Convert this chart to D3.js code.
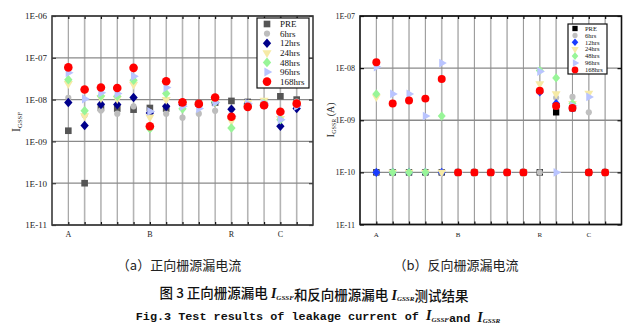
<!DOCTYPE html>
<html>
<head>
<meta charset="utf-8">
<script src="https://cdn.jsdelivr.net/npm/d3@7"></script>
<style>
  html, body { margin: 0; padding: 0; background: #fff; }
  svg { display: block; }
</style>
</head>
<body>
<svg id="chart" width="642" height="331"></svg>
<script>
// Sample positions 1..15 along the x axis; labelled groups
const positions = d3.range(1, 16);
const groupLabels = ["A", "B", "R", "C"];
const groupPositions = [1, 6, 11, 14];

const seriesNames = ["PRE", "6hrs", "12hrs", "24hrs", "48hrs", "96hrs", "168hrs"];

// (a) forward gate-source leakage I_GSSF, amperes
const fwdPRE   = [1.8e-9, 1.0e-10, 6.3e-9, 6.1e-9, 5.75e-9, 6.3e-9, 6.1e-9, 8.5e-9, 8.0e-9, 8.5e-9, 9.3e-9, 8.8e-9, 7.5e-9, 1.2e-8, 1.0e-8];
const fwd6h    = [1.1e-8, 4.2e-9, 5.5e-9, 4.6e-9, 6.9e-9, 5.0e-9, 4.6e-9, 3.7e-9, 4.6e-9, 5.4e-9, 6.0e-9, 8.5e-9, 8.0e-9, 5.1e-9, 9.0e-9];
const fwd12h   = [8.5e-9, 2.4e-9, 7.7e-9, 7.6e-9, 1.12e-8, 4.8e-9, 6.9e-9, 7.5e-9, 7.5e-9, 8.5e-9, 5.9e-9, 7.8e-9, 7.6e-9, 2.3e-9, 6.1e-9];
const fwd24h   = [2.4e-8, 4.1e-9, 1.1e-8, 1.05e-8, 2.3e-8, 3.8e-9, 1.0e-8, 8.0e-9, 7.5e-9, 8.5e-9, 3.1e-9, 8.5e-9, 9.6e-9, 3.5e-9, 8.0e-9];
const fwd48h   = [3.0e-8, 5.4e-9, 1.22e-8, 1.2e-8, 2.9e-8, 2.0e-9, 1.4e-8, 6.0e-9, 7.5e-9, 8.8e-9, 2.1e-9, 7.5e-9, 8.0e-9, 3.3e-9, 7.5e-9];
const fwd96h   = [4.4e-8, 1.04e-8, 1.45e-8, 1.39e-8, 3.6e-8, 5.2e-9, 1.94e-8, 6.9e-9, 6.1e-9, 8.5e-9, 4.0e-9, 8.0e-9, 8.0e-9, 3.3e-9, 7.0e-9];
const fwd168h  = [5.9e-8, 1.74e-8, 1.94e-8, 1.9e-8, 5.75e-8, 2.3e-9, 2.75e-8, 8.6e-9, 7.9e-9, 1.12e-8, 3.9e-9, 6.7e-9, 7.3e-9, 5.1e-9, 8.0e-9];

// (b) reverse gate-source leakage I_GSSR, amperes
const revPRE   = [1e-10, 1e-10, 1e-10, 1e-10, 1e-10, 1e-10, 1e-10, 1e-10, 1e-10, 1e-10, 1e-10, 1.42e-9, 1.7e-9, 1e-10, 1e-10];
const rev6h    = [1e-10, 1e-10, 1e-10, 1e-10, 1e-10, 1e-10, 1e-10, 1e-10, 1e-10, 1e-10, 1e-10, 2.7e-9, 2.8e-9, 1.42e-9, 1e-10];
const rev12h   = [1e-10, 1e-10, 1e-10, 1e-10, 1e-10, 1e-10, 1e-10, 1e-10, 1e-10, 1e-10, 3.5e-9, 2.1e-9, 1.72e-9, 1e-10, 1e-10];
const rev24h   = [2.8e-9, 1e-10, 1e-10, 1e-10, 1e-10, 1e-10, 1e-10, 1e-10, 1e-10, 1e-10, 5.0e-9, 3.2e-9, 2.1e-9, 3.3e-9, 1e-10];
const rev48h   = [3.2e-9, 1e-10, 1e-10, 1e-10, 1.2e-9, 1e-10, 1e-10, 1e-10, 1e-10, 1e-10, 9.0e-9, 6.5e-9, 2.1e-9, 1e-10, 1e-10];
const rev96h   = [1.05e-8, 3.2e-9, 3.2e-9, 1.2e-9, 1.25e-8, 1e-10, 1e-10, 1e-10, 1e-10, 1e-10, 8.6e-9, 1e-10, 1.9e-9, 2.8e-9, 1e-10];
const rev168h  = [1.29e-8, 2.1e-9, 2.4e-9, 2.6e-9, 6.2e-9, 1e-10, 1e-10, 1e-10, 1e-10, 1e-10, 3.7e-9, 1.88e-9, 1.72e-9, 1e-10, 1e-10];

const fwdTicks = [1e-6, 1e-7, 1e-8, 1e-9, 1e-10, 1e-11];
const revTicks = [1e-7, 1e-8, 1e-9, 1e-10, 1e-11];

const svg = d3.select("#chart");
const serif = "'Liberation Serif', 'DejaVu Serif', serif";

// a slightly tall rhombus marker
const symbolRhombus = {
  draw(ctx, size) {
    const r = Math.sqrt(size / 2.3);
    ctx.moveTo(0, -r * 1.15);
    ctx.lineTo(r, 0);
    ctx.lineTo(0, r * 1.15);
    ctx.lineTo(-r, 0);
    ctx.closePath();
  }
};

function symbolPath(shape, size) {
  const types = { square: d3.symbolSquare, circle: d3.symbolCircle, diamond: symbolRhombus,
                  triDown: d3.symbolTriangle, triRight: d3.symbolTriangle };
  return d3.symbol().type(types[shape]).size(size)();
}
function symbolRotate(shape) {
  return shape === "triDown" ? 180 : shape === "triRight" ? 90 : 0;
}

function drawPanel(cfg) {
  const g = svg.append("g");
  const x = d3.scaleLinear().domain([0, 16]).range([cfg.left, cfg.right]);
  const y = d3.scaleLog().domain([1e-11, cfg.top]).range([cfg.bottom, cfg.topPx]);

  // vertical grid
  g.append("g").selectAll("line").data(d3.range(1, 16)).join("line")
    .attr("x1", d => x(d)).attr("x2", d => x(d))
    .attr("y1", cfg.topPx).attr("y2", cfg.bottom)
    .attr("stroke", (d, i) => i % 3 === 0 ? "#9a9a9a" : "#b4b4b4")
    .attr("stroke-width", (d, i) => i % 3 === 0 ? 1.1 : 1.6);

  // horizontal decade grid
  g.append("g").selectAll("line").data(cfg.ticks).join("line")
    .attr("x1", cfg.left).attr("x2", cfg.right)
    .attr("y1", d => y(d)).attr("y2", d => y(d))
    .attr("stroke", "#8a8a8a").attr("stroke-width", 1.3);

  // left axis with decade labels
  const yAxis = d3.axisLeft(y).tickValues(cfg.ticks).tickSize(-4)
    .tickFormat(d => "1E-" + String(Math.round(-Math.log10(d))).padStart(2, "0"));
  const ya = g.append("g").attr("transform", `translate(${cfg.left},0)`).call(yAxis);
  ya.select(".domain").remove();
  ya.selectAll(".tick line").attr("stroke", cfg.frame).attr("stroke-width", 1.2);
  ya.selectAll(".tick text").attr("x", -5).attr("font-family", serif)
    .attr("font-size", cfg.tickFont).attr("fill", "#222");

  // right side decade ticks
  const yr = g.append("g").attr("transform", `translate(${cfg.right},0)`)
    .call(d3.axisRight(y).tickValues(cfg.ticks).tickSize(-4).tickFormat(""));
  yr.select(".domain").remove();
  yr.selectAll(".tick line").attr("stroke", cfg.frame).attr("stroke-width", 1.2);

  // bottom and top ticks at every position, letters at group positions
  const xb = g.append("g").attr("transform", `translate(0,${cfg.bottom})`)
    .call(d3.axisBottom(x).tickValues(d3.range(1, 16)).tickSize(-3).tickFormat(""));
  xb.select(".domain").remove();
  xb.selectAll(".tick line").attr("stroke", "#111").attr("stroke-width", 1.2);
  const xt = g.append("g").attr("transform", `translate(0,${cfg.topPx})`)
    .call(d3.axisTop(x).tickValues(d3.range(1, 16)).tickSize(-3).tickFormat(""));
  xt.select(".domain").remove();
  xt.selectAll(".tick line").attr("stroke", "#111").attr("stroke-width", 1.2);

  g.append("g").selectAll("text").data(groupLabels).join("text")
    .attr("x", (d, i) => x(groupPositions[i])).attr("y", cfg.bottom + 12)
    .attr("text-anchor", "middle").attr("font-family", serif)
    .attr("font-size", cfg.tickFont - 1).attr("fill", "#222").text(d => d);

  // frame
  g.append("rect").attr("x", cfg.left).attr("y", cfg.topPx)
    .attr("width", cfg.right - cfg.left).attr("height", cfg.bottom - cfg.topPx)
    .attr("fill", "none").attr("stroke", cfg.frame).attr("stroke-width", 1.6);

  // data markers, series drawn in legend order
  cfg.series.forEach(s => {
    g.append("g").selectAll("path").data(s.values).join("path")
      .attr("d", symbolPath(s.shape, s.size))
      .attr("transform", (v, i) => `translate(${x(positions[i])},${y(v)}) rotate(${symbolRotate(s.shape)})`)
      .attr("fill", s.color);
  });

  // y axis title with subscript
  const lab = g.append("text")
    .attr("transform", `translate(${cfg.ylabX},${cfg.ylabY}) rotate(-90)`)
    .attr("text-anchor", "middle").attr("font-family", serif).attr("fill", "#222")
    .attr("font-size", cfg.ylabFont);
  lab.append("tspan").text("I");
  lab.append("tspan").attr("font-size", cfg.ylabFont * 0.55).attr("dy", 2).text(cfg.ylabSub);
  if (cfg.ylabUnit) lab.append("tspan").attr("dy", -2).attr("font-size", cfg.ylabFont * 0.9).text(cfg.ylabUnit);

  // legend
  const L = cfg.legend;
  g.append("rect").attr("x", L.x).attr("y", L.y).attr("width", L.w).attr("height", L.h)
    .attr("fill", "#fff").attr("stroke", "#111").attr("stroke-width", 1.2);
  cfg.series.forEach((s, i) => {
    const cy = L.y + L.pad + i * L.step;
    g.append("path").attr("d", symbolPath(s.shape, s.size * L.scale))
      .attr("transform", `translate(${L.x + L.mx},${cy}) rotate(${symbolRotate(s.shape)})`)
      .attr("fill", s.color);
    g.append("text").attr("x", L.x + L.tx).attr("y", cy).attr("dy", "0.35em")
      .attr("font-family", serif).attr("font-size", L.font).attr("fill", "#111")
      .text(seriesNames[i]);
  });
}

const shapes = ["square", "circle", "diamond", "triDown", "diamond", "triRight", "circle"];

drawPanel({
  left: 52, right: 313, topPx: 16, bottom: 225, top: 1e-6, ticks: fwdTicks,
  frame: "#3a3a3a", tickFont: 9,
  ylabX: 20, ylabY: 122, ylabFont: 12, ylabSub: "GSSF",
  series: [fwdPRE, fwd6h, fwd12h, fwd24h, fwd48h, fwd96h, fwd168h].map((v, i) => ({
    values: v, shape: shapes[i],
    color: ["#555555", "#bdbdbd", "#00008b", "#f6eaa6", "#98f598", "#b9c4ff", "#ff0000"][i],
    size: [44, 30, 40, 36, 40, 36, 58][i]
  })),
  legend: { x: 257, y: 18, w: 52, h: 70, pad: 6, step: 9.6, mx: 10, tx: 23, font: 9, scale: 1 }
});

drawPanel({
  left: 360, right: 621.5, topPx: 16, bottom: 224.5, top: 1e-7, ticks: revTicks,
  frame: "#111", tickFont: 8,
  ylabX: 334, ylabY: 120, ylabFont: 11, ylabSub: "GSSR", ylabUnit: " (A)",
  series: [revPRE, rev6h, rev12h, rev24h, rev48h, rev96h, rev168h].map((v, i) => ({
    values: v, shape: shapes[i],
    color: ["#000000", "#c0c0c0", "#1a3cff", "#f6eaa6", "#98f598", "#b9c4ff", "#ff0000"][i],
    size: [40, 30, 36, 34, 36, 34, 50][i]
  })),
  legend: { x: 568, y: 24, w: 39, h: 50, pad: 4.5, step: 6.9, mx: 7, tx: 17, font: 6.5, scale: 0.7 }
});

// captions
const cjk = "'Noto Sans CJK SC', sans-serif";
svg.append("text").attr("x", 179).attr("y", 270).attr("text-anchor", "middle")
  .attr("font-family", cjk).attr("font-size", 13).attr("fill", "#222").text("（a）正向栅源漏电流");
svg.append("text").attr("x", 456).attr("y", 270).attr("text-anchor", "middle")
  .attr("font-family", cjk).attr("font-size", 13).attr("fill", "#222").text("（b）反向栅源漏电流");

function subI(t, sub, size) {
  t.append("tspan").attr("font-family", serif).attr("font-style", "italic").attr("font-weight", "bold")
    .attr("font-size", size).text("I");
  t.append("tspan").attr("font-family", serif).attr("font-style", "italic").attr("font-weight", "bold")
    .attr("font-size", size * 0.5).attr("dy", 1.5).text(sub);
  t.append("tspan").attr("dy", -1.5).text("");
}

const cap2 = svg.append("text").attr("x", 314).attr("y", 298).attr("text-anchor", "middle")
  .attr("font-family", cjk).attr("font-weight", 500).attr("font-size", 13.5).attr("fill", "#111");
cap2.append("tspan").text("图 3  正向栅源漏电 ");
subI(cap2, "GSSF", 14);
cap2.append("tspan").text("和反向栅源漏电 ");
subI(cap2, "GSSR", 14);
cap2.append("tspan").text("测试结果");

const mono = "'Liberation Mono', 'DejaVu Sans Mono', monospace";
const cap3 = svg.append("text").attr("x", 318).attr("y", 320).attr("text-anchor", "middle")
  .attr("font-family", mono).attr("font-weight", "bold").attr("font-size", 11.8).attr("fill", "#111");
cap3.append("tspan").text("Fig.3 Test results of leakage current of ");
subI(cap3, "GSSF", 14);
cap3.append("tspan").text("and ");
subI(cap3, "GSSR", 14);
</script>
</body>
</html>
